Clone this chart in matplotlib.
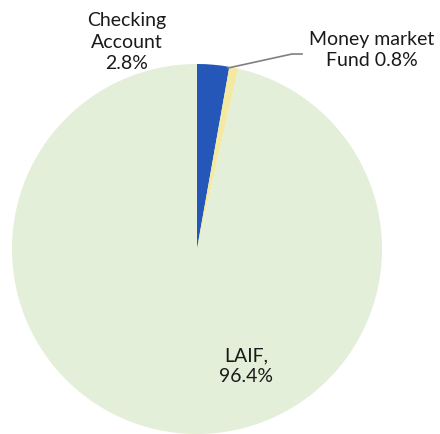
import matplotlib
matplotlib.use("Agg")
import matplotlib.pyplot as plt

labels = ["Checking\nAccount\n2.8%", "Money market\nFund 0.8%", "LAIF,\n96.4%"]
values = [2.8, 0.8, 96.4]
colors = ["#2457b8", "#f3e9a2", "#e3efd8"]

plt.rcParams['font.family'] = ['Lato', 'DejaVu Sans']

fig = plt.figure(figsize=(4.40, 4.35), dpi=100)
ax = fig.add_axes([0, 0, 1, 1])
R = 185.0

wedges, _ = ax.pie(values, colors=colors, startangle=90, counterclock=False,
                   radius=1.0, center=(0, 0), wedgeprops=dict(linewidth=0))
ax.set_aspect("auto")
ax.set_xlim(-197 / R, (440 - 197) / R)
ax.set_ylim(-(435 - 250) / R, 250 / R)
ax.axis("off")

def px(x, y):
    return ((x - 197) / R, (250 - y) / R)

fs = 14
ls = 1.3
ax.text(*px(127, 42), labels[0], ha="center", va="center", fontsize=fs,
        linespacing=ls, color="#1a1a1a")
ax.text(*px(372, 50), labels[1], ha="center", va="center", fontsize=fs,
        linespacing=ls, color="#1a1a1a")
ax.text(*px(246, 366), labels[2], ha="center", va="center", fontsize=fs,
        linespacing=ls, color="#1a1a1a")

x0, y0 = px(228, 69)
x1, y1 = px(292, 55)
x2, y2 = px(302, 55)
ax.plot([x0, x1, x2], [y0, y1, y2], color="#7f7f7f", lw=1.2)

fig.savefig("out.png", dpi=100)
